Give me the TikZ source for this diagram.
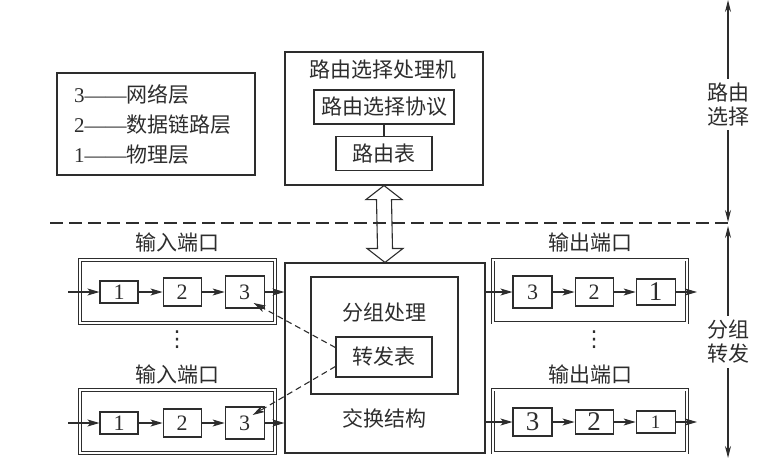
\documentclass[tikz,border=0pt]{standalone}
\usepackage{fontspec}
\setmainfont{Liberation Serif}
\newfontfamily\cjk{Noto Sans CJK SC}
\newfontfamily\dotsfont{DejaVu Sans}
\usepackage{xcolor}
\usepackage{tikz}
\usetikzlibrary{positioning,calc,arrows.meta}
\definecolor{ink}{RGB}{45,45,45}

\begin{document}
\begin{tikzpicture}[
    x=1pt, y=-1pt,
    color=ink,
    font=\fontsize{21}{26}\selectfont,
    box/.style={rectangle, draw, line width=1.1pt, align=center},
    zh/.style={font=\fontsize{21}{24}\selectfont\cjk},
    cell/.style={rectangle, draw, line width=1.1pt, minimum width=38pt, minimum height=28pt, inner sep=0pt, font=\fontsize{22}{24}\selectfont},
    big/.style={font=\fontsize{27}{28}\selectfont},
    small/.style={font=\fontsize{19}{20}\selectfont},
    vdotsmark/.style={inner sep=0pt, font=\fontsize{22}{24}\selectfont\dotsfont},
    port/.style={rectangle, draw, line width=0.9pt, double, double distance=2pt, minimum width=195pt, minimum height=63pt},
    keybox/.style={rectangle, draw, line width=1.1pt, align=left, text width=164pt, inner xsep=17pt, minimum height=102pt, font=\fontsize{21}{30}\selectfont},
    arrow/.style={-{Stealth[length=12pt, width=7pt, inset=3pt]}, line width=1.1pt},
    fwdarrow/.style={-{Stealth[length=12pt, width=7pt, inset=3pt]}, line width=1.1pt, dash pattern=on 6pt off 4pt},
    rangearrow/.style={{Stealth[length=12pt, width=6pt]}-{Stealth[length=12pt, width=6pt]}, line width=1.1pt}
]
\useasboundingbox (0,0) rectangle (778,460);

% legend
\node[keybox] (key) at (156,124) {3——{\cjk 网络层}\\2——{\cjk 数据链路层}\\1——{\cjk 物理层}};

% routing processor
\node[box, minimum width=198pt, minimum height=133pt] (proc) at (384,118.5) {};
\node[zh] (procname) at (383,70) {路由选择处理机};
\node[box, zh, minimum width=140pt, minimum height=34pt] (proto) at (384,107) {路由选择协议};
\node[box, zh, minimum width=96pt, minimum height=34pt, below=11pt of proto] (rtab) {路由表};
\draw[line width=1.1pt] (proto) -- (rtab);

% switch fabric
\node[box, minimum width=200pt, minimum height=190pt] (fab) at (385,358) {};
\node[box, minimum width=147pt, minimum height=117pt] (pproc) at (384.5,335.5) {};
\node[zh] (pname) at (384,313) {分组处理};
\node[box, zh, minimum width=96pt, minimum height=40pt] (fwd) at (384,357) {转发表};
\node[zh] (fabname) at (384,418) {交换结构};

% link between processor and fabric
\draw[line width=1.1pt] (proc.south) -- ++(18,14) -- ++(-10.5,0) -- ($(fab.north)+(7.5,-14)$)
    -- ++(10.5,0) -- (fab.north) -- ++(-18,-14) -- ++(10.5,0) -- ($(proc.south)+(-7.5,14)$) -- ++(-10.5,0) -- cycle;

% boundary between routing and forwarding
\coordinate (dl) at (50,223);
\coordinate (dr) at (728,223);
\draw[line width=1.1pt, dash pattern=on 13pt off 6pt] (dl) -- (dr);

% input ports
\node[zh] (in1lbl) at (177,243) {输入端口};
\node[port] (in1) at (177.5,291.5) {};
\node[cell, minimum height=22pt] (i1a) at (119,292) {1};
\node[cell, right=24pt of i1a] (i1b) {2};
\node[cell, minimum width=39pt, minimum height=32pt, right=23pt of i1b] (i1c) {3};
\coordinate (src1) at (68,292);
\draw[arrow] (src1) -- (i1a);
\draw[arrow] (i1a) -- (i1b);
\draw[arrow] (i1b) -- (i1c);
\draw[arrow] (i1c) -- (i1c -| fab.west);

\node[vdotsmark] (idots) at (177,340) {⋮};

\node[zh] (in2lbl) at (177,375) {输入端口};
\node[port] (in2) at (177.5,421.5) {};
\node[cell, minimum height=22pt] (i2a) at (119,423) {1};
\node[cell, right=24pt of i2a] (i2b) {2};
\node[cell, minimum width=39pt, minimum height=32pt, right=23pt of i2b] (i2c) {3};
\coordinate (src2) at (68,423);
\draw[arrow] (src2) -- (i2a);
\draw[arrow] (i2a) -- (i2b);
\draw[arrow] (i2b) -- (i2c);
\draw[arrow] (i2c) -- (i2c -| fab.west);

% lookups in the forwarding table
\coordinate (t1) at ([shift={(9,11)}]i1c.center);
\coordinate (t2) at ([shift={(8,-8)}]i2c.center);
\draw[fwdarrow] (fwd.169) -- (t1);
\draw[fwdarrow] (fwd.191) -- (t2);

% output ports
\node[zh] (out1lbl) at (590,243) {输出端口};
\node[port, minimum width=194pt] (out1) at (590,291) {};
\node[cell, minimum width=39pt, minimum height=32pt] (o1a) at (532.5,292) {3};
\node[cell, right=22pt of o1a] (o1b) {2};
\node[cell, big, minimum width=39pt, minimum height=26pt, right=22pt of o1b] (o1c) {1};
\coordinate (dst1) at (697,292);
\draw[arrow] (fab.east |- o1a) -- (o1a);
\draw[arrow] (o1a) -- (o1b);
\draw[arrow] (o1b) -- (o1c);
\draw[arrow] (o1c) -- (dst1);

\node[vdotsmark] (odots) at (594,340) {⋮};

\node[zh] (out2lbl) at (590,375) {输出端口};
\node[port, minimum width=194pt] (out2) at (590,421) {};
\node[cell, big, minimum width=39pt, minimum height=28pt] (o2a) at (532.5,422) {3};
\node[cell, big, minimum height=24pt, right=22pt of o2a] (o2b) {2};
\node[cell, small, minimum width=39pt, minimum height=22pt, right=22pt of o2b] (o2c) {1};
\coordinate (dst2) at (697,422);
\draw[arrow] (fab.east |- o2a) -- (o2a);
\draw[arrow] (o2a) -- (o2b);
\draw[arrow] (o2b) -- (o2c);
\draw[arrow] (o2c) -- (dst2);

% functional ranges
\coordinate (axtop) at (728,0);
\coordinate (axmid1) at (728,222);
\coordinate (axmid2) at (728,226);
\coordinate (axbot) at (728,458);
\draw[rangearrow] (axtop) -- node[zh, fill=white, pos=0.47, align=center, inner sep=4pt] (rsel) {路由\\选择} (axmid1);
\draw[rangearrow] (axmid2) -- node[zh, fill=white, pos=0.5, align=center, inner sep=4pt] (pfwd) {分组\\转发} (axbot);

\end{tikzpicture}
\end{document}
